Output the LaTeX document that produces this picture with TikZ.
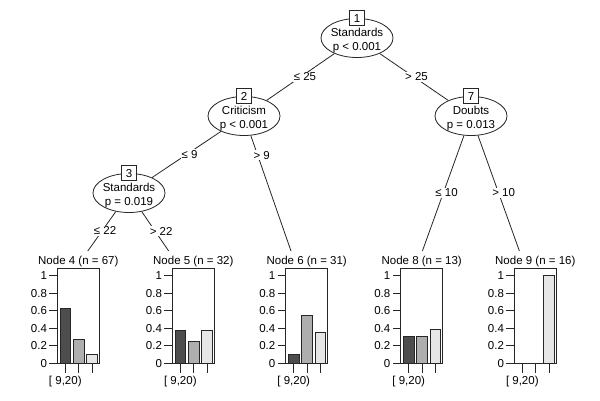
\documentclass[tikz,border=0pt]{standalone}
\usepackage{fontspec}
\setmainfont{Liberation Sans}
\usetikzlibrary{shapes.geometric}
\definecolor{barA}{HTML}{4D4D4D}
\definecolor{barB}{HTML}{AEAEAE}
\definecolor{barC}{HTML}{E6E6E6}
\newcommand\termpanel[6]{%
  \node[anchor=base] (#1) at ({#2+21},264.5) {#3};
  \draw[thinline] (#2,268) rectangle ({#2+42},363.3);
  \draw[thinline,fill=barA] ({#2+2.7},363.3) rectangle ({#2+13.4},{363.3-87.6*#4});
  \draw[thinline,fill=barB] ({#2+16},363.3) rectangle ({#2+26.7},{363.3-87.6*#5});
  \draw[thinline,fill=barC] ({#2+29.4},363.3) rectangle ({#2+40},{363.3-87.6*#6});
  \foreach \v/\t [count=\i] in {0/0,0.2/0.2,0.4/0.4,0.6/0.6,0.8/0.8,1/1}
    \draw[thinline] (#2,{363.3-87.6*\v}) -- ({#2-8},{363.3-87.6*\v})
      node[anchor=east, inner sep=2pt] (#1y\i) {\t};
  \foreach \dx in {8,21.3,34.7}
    \draw[thinline] ({#2+\dx},363.3) -- ({#2+\dx},373);
  \node (#1x) at ({#2+8},382) {[ 9,20)};
}
\begin{document}
\begin{tikzpicture}[x=1pt,y=-1pt,
  font=\fontsize{11.5}{14}\selectfont,
  thinline/.style={line width=0.8pt, draw=black!85},
  inner/.style={ellipse, draw=black!85, line width=0.8pt, fill=white,
    minimum width=72pt, minimum height=39pt, inner sep=0pt},
  etext/.style={align=center, inner sep=0pt},
  idbox/.style={draw=black!85, line width=0.8pt, fill=white, minimum width=15pt,
    minimum height=15pt, inner sep=0pt},
  elab/.style={fill=white, inner sep=1pt},
  conn/.style={line width=0.8pt, draw=black!85}]
\useasboundingbox[fill=white] (0,0) rectangle (600,400);

% inner nodes
\node[inner] (n1) at (357,38) {};
\node[inner] (n2) at (244,116) {};
\node[inner] (n3) at (129,193) {};
\node[inner] (n7) at (471,116) {};
\node[etext] (n1t) at ([yshift=-2.8pt]n1.center) {Standards\\p < 0.001};
\node[etext] (n2t) at ([yshift=-2.8pt]n2.center) {Criticism\\p < 0.001};
\node[etext] (n3t) at ([yshift=-2.8pt]n3.center) {Standards\\p = 0.019};
\node[etext] (n7t) at ([yshift=-2.8pt]n7.center) {Doubts\\p = 0.013};

% terminal panels
\termpanel{t4}{57.3}{Node 4 (n = 67)}{0.627}{0.269}{0.104}
\termpanel{t5}{172.3}{Node 5 (n = 32)}{0.375}{0.25}{0.375}
\termpanel{t6}{285.7}{Node 6 (n = 31)}{0.097}{0.548}{0.355}
\termpanel{t8}{400.7}{Node 8 (n = 13)}{0.308}{0.308}{0.385}
\termpanel{t9}{514.3}{Node 9 (n = 16)}{0}{0}{1}

% edge ends at top of terminal panels
\coordinate (e4) at (87.8,251);
\coordinate (e5) at (168.7,251);
\coordinate (e6) at (291,251);
\coordinate (e8) at (422.4,251);
\coordinate (e9) at (519.4,251);

% connectors
\draw[conn] (n1) -- (n2) node[elab, pos=0.5, xshift=4.5pt] (l12) {≤ 25};
\draw[conn] (n1) -- (n7) node[elab, pos=0.5, xshift=2.5pt] (l17) {> 25};
\draw[conn] (n2) -- (n3) node[elab, pos=0.5, xshift=3pt] (l23) {≤ 9};
\draw[conn] (n2) -- (e6) node[elab, pos=0.171, xshift=4pt] (l26) {> 9};
\draw[conn] (n3) -- (e4) node[elab, pos=0.49, xshift=3pt] (l34) {≤ 22};
\draw[conn] (n3) -- (e5) node[elab, pos=0.496, xshift=6pt] (l35) {> 22};
\draw[conn] (n7) -- (e8) node[elab, pos=0.498, xshift=3.3pt] (l78) {≤ 10};
\draw[conn] (n7) -- (e9) node[elab, pos=0.498, xshift=5pt] (l79) {> 10};

% node id boxes
\node[idbox] (b1) at (n1.north) {1};
\node[idbox] (b2) at (n2.north) {2};
\node[idbox] (b3) at (n3.north) {3};
\node[idbox] (b7) at (n7.north) {7};
\end{tikzpicture}
\end{document}
